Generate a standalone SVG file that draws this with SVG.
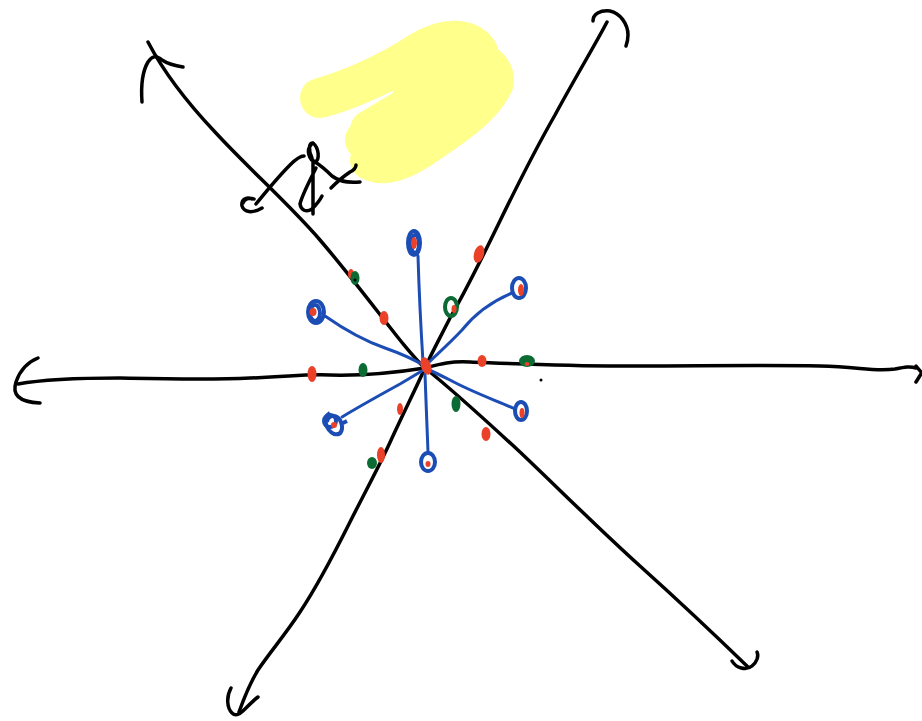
<svg xmlns="http://www.w3.org/2000/svg" width="922" height="721" viewBox="0 0 922 721">
<style>
.k{fill:none;stroke:#000;stroke-width:3.5;stroke-linecap:round;stroke-linejoin:round}
.hl{fill:none;stroke:#ffff8c;stroke-width:40;stroke-linecap:round;stroke-linejoin:round}
.b{fill:none;stroke:#1c4db5;stroke-width:3;stroke-linecap:round;stroke-linejoin:round}
.bl{fill:none;stroke:#1c4db5;stroke-width:4}
.r{fill:#ea4128}
.g{fill:#0b6b33}
.gl{fill:none;stroke:#0b6b33;stroke-width:4}
</style>
<rect width="922" height="721" fill="#fff"/>
<g id="highlight">
<path class="hl" d="M320,98 C350,90 390,72 420,52 C445,36 470,38 478,52"/>
<path class="hl" d="M440,60 C470,55 495,62 494,82 C485,105 455,125 430,142 C405,160 385,168 370,160"/>
<path class="hl" d="M365,140 C395,125 430,105 480,78"/>
<path class="hl" d="M370,130 L420,100 L430,140 L385,160 Z"/>
<path class="hl" d="M410,80 L460,62 L470,90 L420,110 Z"/>
</g>
<g id="axes">
<path class="k" d="M18,384 C40,380 80,378 120,378 C170,379 210,380 250,378 C290,377 300,374 330,375 C370,376 400,372 425,368 C440,364 450,361 470,362 C520,364 560,366 620,366 C700,366 760,365 820,366 C860,367 875,372 895,369 C905,367 910,366 916,368"/>
<path class="k" d="M916,366 L921,372 M921,374 L916,382"/>
<path class="k" d="M38,358 C28,362 20,370 16,382 C12,394 18,402 40,403"/>
<path class="k" d="M148,42 C160,65 180,95 215,132 C250,170 290,205 320,240 C350,275 380,315 400,340 C410,352 418,362 425,368 C450,388 480,415 520,452 C560,490 600,530 640,566 C680,602 715,635 748,667"/>
<path class="k" d="M142,102 C141,88 142,72 148,62 C152,56 156,55 162,60 C168,64 176,66 183,67"/>
<path class="k" d="M732,661 C736,668 746,671 752,666 C757,662 759,656 757,652"/>
<path class="k" d="M607,22 C595,45 575,78 555,115 C535,150 515,190 498,225 C480,262 465,292 450,318 C440,338 432,352 425,368 C415,390 405,410 392,438 C380,465 365,492 350,522 C335,552 318,585 300,612 C285,635 270,652 258,670 C250,683 244,698 239,712"/>
<path class="k" d="M593,21 C593,14 600,10 610,11 C620,13 628,24 628,35 C628,40 627,43 626,46"/>
<path class="k" d="M231,688 C226,697 227,708 232,713 C236,717 240,714 246,708 C250,704 254,700 258,697"/>
<path class="k" d="M243,203 C244,199 249,197 254,199 M252,199 C246,196 241,200 242,206 C244,212 252,214 262,208 M256,204 C265,193 277,178 290,165 C296,159 300,156 304,156"/>
<path class="k" d="M311,145 C306,150 309,160 315,162 C320,160 319,148 313,143 C309,142 308,150 312,158 M315,162 C320,165 326,170 332,176 C340,182 350,183 360,182 M313,160 C313,178 313,195 313,214 M316,168 C310,180 302,195 300,204 C301,210 306,213 312,209 C316,205 320,200 322,196 M331,188 C337,182 344,176 350,172 C354,170 356,168 356,165"/>
</g>
<g id="star">
<path class="b" d="M418,256 C419,290 421,330 423,362"/>
<ellipse class="bl" cx="414" cy="243" rx="6" ry="12"/>
<ellipse class="bl" cx="415" cy="244" rx="4" ry="9"/>
<path class="b" d="M512,293 C495,300 478,310 462,330 C448,345 435,356 425,366"/>
<ellipse class="bl" cx="519" cy="288" rx="7" ry="10"/>
<path class="b" d="M325,316 C345,330 362,340 385,348 C402,354 415,360 425,366"/>
<ellipse class="bl" cx="316" cy="312" rx="8" ry="11"/>
<ellipse class="bl" cx="315" cy="313" rx="5" ry="8"/>
<path class="b" d="M515,409 C495,400 472,392 450,380 C440,375 432,371 427,369"/>
<ellipse class="bl" cx="521" cy="411" rx="6" ry="9"/>
<path class="b" d="M342,417 C360,406 380,395 400,384 C412,377 420,372 425,369"/>
<path class="bl" d="M330,413 C322,418 326,430 334,434 C342,436 344,428 340,420 C336,414 328,415 327,422 M343,423 L347,421"/>
<ellipse class="bl" cx="330" cy="421" rx="6" ry="6"/>
<path class="b" d="M425,374 C426,400 427,430 428,452"/>
<ellipse class="bl" cx="428" cy="462" rx="7" ry="9"/>
</g>
<g id="dots">
<ellipse class="r" cx="426" cy="366" rx="5" ry="9" transform="rotate(-20 426 366)"/>
<ellipse class="r" cx="414" cy="243" rx="3" ry="6"/>
<ellipse class="r" cx="521" cy="290" rx="3" ry="6"/>
<ellipse class="r" cx="313" cy="312" rx="3.5" ry="4"/>
<ellipse class="r" cx="522" cy="413" rx="2.5" ry="5"/>
<ellipse class="r" cx="334" cy="425" rx="3" ry="3"/>
<ellipse class="r" cx="428" cy="464" rx="2.5" ry="3"/>
<ellipse class="r" cx="479" cy="254" rx="5" ry="9" transform="rotate(15 479 254)"/>
<ellipse class="r" cx="384" cy="318" rx="4.5" ry="7"/>
<ellipse class="r" cx="312" cy="374" rx="4.5" ry="8"/>
<ellipse class="r" cx="482" cy="361" rx="4.5" ry="6"/>
<ellipse class="r" cx="400" cy="409" rx="3" ry="6"/>
<ellipse class="r" cx="486" cy="434" rx="4.5" ry="7"/>
<ellipse class="r" cx="381" cy="455" rx="4" ry="8"/>
<ellipse class="r" cx="351" cy="274" rx="3" ry="5"/>
<ellipse class="g" cx="355" cy="278" rx="4.5" ry="7"/>
<ellipse class="gl" cx="451" cy="307" rx="6" ry="9"/>
<ellipse class="r" cx="454" cy="309" rx="2.5" ry="4"/>
<ellipse class="g" cx="363" cy="370" rx="4.5" ry="7"/>
<ellipse class="g" cx="527" cy="361" rx="8" ry="6"/>
<ellipse class="r" cx="527" cy="364" rx="2.5" ry="2"/>
<ellipse class="g" cx="456" cy="404" rx="4.5" ry="8"/>
<ellipse class="g" cx="372" cy="463" rx="5" ry="6"/>
<circle cx="355" cy="280" r="1.5" fill="#000"/>
<circle cx="541" cy="380" r="1.5" fill="#000"/>
</g>
</svg>
